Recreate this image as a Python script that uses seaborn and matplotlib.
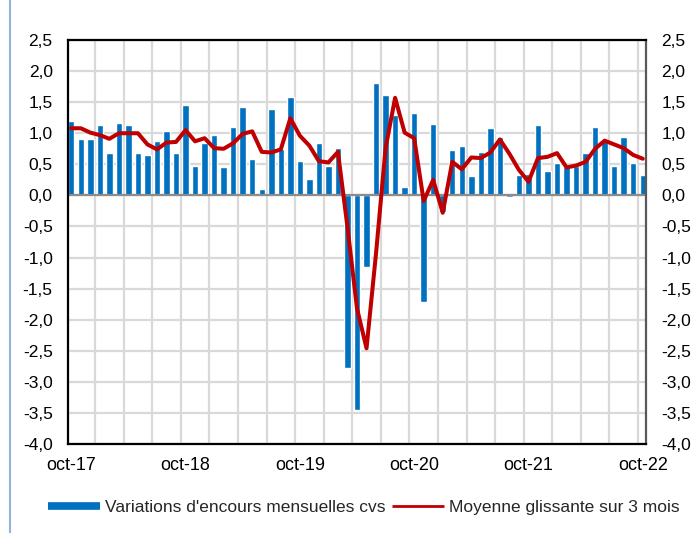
import matplotlib
matplotlib.use('Agg')
import numpy as np
import pandas as pd
import matplotlib.pyplot as plt
import seaborn as sns
from matplotlib.lines import Line2D
from matplotlib.ticker import FuncFormatter

# variations mensuelles d'encours cvs, oct-17 -> oct-22 (61 mois)
variations = [1.20, 0.90, 0.90, 1.13, 0.68, 1.16, 1.13, 0.68, 0.65, 0.87, 1.03, 0.68,
              1.45, 0.48, 0.84, 0.97, 0.45, 1.10, 1.42, 0.58, 0.10, 1.39, 0.74, 1.58,
              0.55, 0.26, 0.84, 0.48, 0.77, -2.78, -3.46, -1.15, 1.81, 1.61, 1.29, 0.14,
              1.32, -1.72, 1.15, -0.26, 0.73, 0.79, 0.31, 0.69, 1.08, 0.94, -0.02, 0.32,
              0.35, 1.13, 0.39, 0.52, 0.45, 0.48, 0.68, 1.10, 0.87, 0.48, 0.94, 0.52, 0.32]

# moyenne glissante sur 3 mois
moyenne = [1.08, 1.08, 1.01, 0.97, 0.91, 1.00, 1.00, 1.00, 0.82, 0.74, 0.85, 0.86,
           1.05, 0.87, 0.92, 0.76, 0.75, 0.84, 0.99, 1.03, 0.70, 0.69, 0.74, 1.24,
           0.96, 0.80, 0.55, 0.53, 0.70, -0.51, -1.82, -2.46, -0.93, 0.76, 1.57, 1.01,
           0.92, -0.09, 0.25, -0.28, 0.54, 0.42, 0.61, 0.60, 0.69, 0.90, 0.67, 0.41,
           0.22, 0.60, 0.62, 0.68, 0.45, 0.48, 0.54, 0.75, 0.88, 0.82, 0.76, 0.65, 0.59]

mois = pd.date_range('2017-10-01', periods=61, freq='MS')
etiquettes = ['oct-17', 'oct-18', 'oct-19', 'oct-20', 'oct-21', 'oct-22']
legende = ["Variations d'encours mensuelles cvs", 'Moyenne glissante sur 3 mois']

df = pd.DataFrame({'rang': np.arange(len(mois)), 'mois': mois,
                   'variation': variations, 'moyenne': moyenne})

sns.set_style('white')
plt.rcParams['font.family'] = ['Liberation Sans', 'DejaVu Sans']

bleu = '#0070C0'
rouge = '#C00000'

fig = plt.figure(figsize=(6.96, 5.33), dpi=100)
ax = fig.add_axes([68 / 696, 1 - 444 / 533, 578 / 696, 404 / 533])

sns.barplot(data=df, x='rang', y='variation', color=bleu, saturation=1,
            width=0.68, ax=ax, zorder=2)
ax.axhline(0, color='#8c8c8c', lw=1.6, zorder=2.5)
sns.lineplot(data=df, x='rang', y='moyenne', color=rouge, lw=2.9,
             errorbar=None, ax=ax, zorder=4)

ax.set_xlim(-0.34, 60.34)
ax.set_ylim(-4, 2.5)
ax.set_yticks(np.arange(-4, 2.51, 0.5))
ax.yaxis.set_major_formatter(FuncFormatter(lambda v, p: f'{v:.1f}'.replace('.', ',')))

# un libelle par an (octobre), grille verticale tous les 3 mois
oct_pos = df.index[df['mois'].dt.month == 10].tolist()
ax.set_xticks(oct_pos)
ax.set_xticklabels(etiquettes)
ax.set_xticks(np.arange(2.5, 60, 3), minor=True)

ax.set_axisbelow(True)
ax.grid(axis='y', which='major', color='#d9d9d9', lw=1.6)
ax.grid(axis='x', which='minor', color='#d9d9d9', lw=1.6)
ax.grid(axis='x', which='major', visible=False)

ax.tick_params(axis='y', which='both', length=0, pad=11, labelright=True,
               labelsize=12.5, colors='black')
ax.tick_params(axis='x', which='both', length=0, pad=9.5, labelsize=13, colors='black')
ax.set_xlabel('')
ax.set_ylabel('')

for side in ['left', 'top', 'bottom']:
    ax.spines[side].set_color('black')
    ax.spines[side].set_linewidth(1.6)
ax.spines['right'].set_color('#595959')
ax.spines['right'].set_linewidth(1.6)

handles = [Line2D([], [], color=bleu, lw=5.5, solid_capstyle='butt'),
           Line2D([], [], color=rouge, lw=2, solid_capstyle='butt')]
fig.legend(handles, legende, loc='center', bbox_to_anchor=(0.523, 0.048), ncol=2,
           frameon=False, fontsize=12.5, handlelength=3.0, handletextpad=0.3,
           columnspacing=0.35)

# bordure gauche du cadre
fig.add_artist(Line2D([10 / 696, 10 / 696], [0, 1], transform=fig.transFigure,
                      color='#8eb4e3', lw=1.5))

fig.savefig('out.png', dpi=100)
